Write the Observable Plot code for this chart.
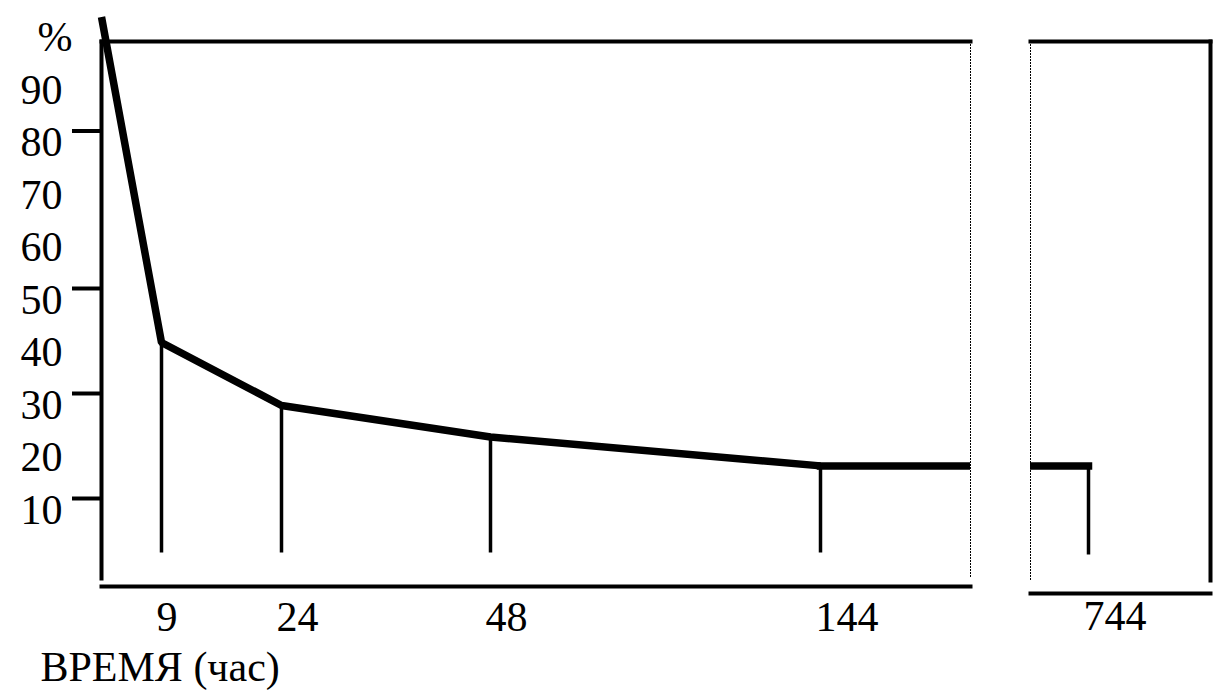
<!DOCTYPE html>
<html>
<head>
<meta charset="utf-8">
<script src="https://cdn.jsdelivr.net/npm/d3@7"></script>
<script src="https://cdn.jsdelivr.net/npm/@observablehq/plot@0.6"></script>
<style>
  html, body { margin: 0; padding: 0; background: #fff; }
  #chart { position: relative; width: 1228px; height: 700px; }
  #chart svg { position: absolute; left: 0; top: 0; }
</style>
</head>
<body>
<div id="chart"></div>
<script>
// ---- data ----
const hours    = [0, 9, 24, 48, 144, 744];
const percents = [104, 42, 30, 24, 18.5, 18.5];
const yTickLabels = [10, 20, 30, 40, 50, 60, 70, 80, 90];
const yTickMarks  = [10, 30, 50, 80];
const xTickLabels = [9, 24, 48, 144, 744];
const unitLabel = "%";
const xTitle = "ВРЕМЯ (час)";

// ---- derived tables ----
const points   = hours.map((h, i) => ({hour: h, pct: percents[i]}));
const mainPart = points.slice(0, 5);   // 0 … 144 h
const tailPart = points.slice(4);      // 144 … 744 h (crosses the axis break)
const measured = points.slice(1);

const W = 1228, H = 700;
const font = "Liberation Serif, 'Times New Roman', serif";
const FS = 42;

// shared (piecewise) scales; both panels use the same scales, each clips to its own frame
const xScale = {type: "linear", domain: hours, range: [101, 161, 281, 490, 820, 1088], axis: null};
const yScale = {type: "linear", domain: [0, 100], range: [562.5, 37.5], axis: null};

const left = Plot.plot({
  width: W, height: H,
  marginLeft: 101, marginRight: W - 970, marginTop: 41, marginBottom: H - 578,
  x: xScale, y: yScale,
  style: {background: "transparent", fontFamily: font},
  marks: [
    Plot.frame({anchor: "top", stroke: "black", strokeWidth: 4}),
    Plot.frame({anchor: "left", stroke: "black", strokeWidth: 4}),
    Plot.frame({anchor: "bottom", stroke: "black", strokeWidth: 4, insetBottom: -8}),
    Plot.frame({anchor: "right", stroke: "black", strokeWidth: 1, strokeDasharray: "1,2"}),
    Plot.ruleY(yTickMarks, {y: d => d, x1: 0, x2: 0, insetLeft: -29, stroke: "black", strokeWidth: 4, dy: -12}),
    Plot.text(yTickLabels, {y: d => d, text: d => String(d), frameAnchor: "left", textAnchor: "end",
      lineAnchor: "middle", dx: -39, fontSize: FS, fontFamily: font, fill: "black"}),
    Plot.text([unitLabel], {frameAnchor: "top-left", textAnchor: "middle", lineAnchor: "middle", dx: -46.5, dy: -4,
      fontSize: FS, fontFamily: font, fill: "black"}),
    Plot.ruleX(measured.filter(d => d.hour <= 144), {x: "hour", y1: "pct", y2: 0, insetBottom: 10,
      stroke: "black", strokeWidth: 3.5}),
    Plot.line(mainPart, {x: "hour", y: "pct", stroke: "black", strokeWidth: 7.5,
      strokeLinecap: "butt", strokeLinejoin: "miter"}),
    Plot.line(tailPart, {x: "hour", y: "pct", stroke: "black", strokeWidth: 7.5, strokeLinecap: "square", clip: true}),
    Plot.text(xTickLabels.filter(d => d <= 144), {x: d => d, text: d => String(d), frameAnchor: "bottom",
      lineAnchor: "middle", textAnchor: "start", dx: -5, dy: 39, fontSize: FS, fontFamily: font, fill: "black"}),
    Plot.text([xTitle], {frameAnchor: "bottom-left", lineAnchor: "middle", textAnchor: "start", dx: -61, dy: 89,
      fontSize: FS, fontFamily: font, fill: "black"})
  ]
});

const right = Plot.plot({
  width: W, height: H,
  marginLeft: 1030, marginRight: W - 1210, marginTop: 41, marginBottom: H - 580,
  x: xScale, y: yScale,
  style: {background: "transparent", fontFamily: font},
  marks: [
    Plot.frame({anchor: "top", stroke: "black", strokeWidth: 4}),
    Plot.frame({anchor: "right", stroke: "black", strokeWidth: 4}),
    Plot.frame({anchor: "bottom", stroke: "black", strokeWidth: 4, insetBottom: -13}),
    Plot.frame({anchor: "left", stroke: "black", strokeWidth: 1, strokeDasharray: "1,2"}),
    Plot.ruleX(measured.filter(d => d.hour > 144), {x: "hour", y1: "pct", y2: 0, insetBottom: 8,
      stroke: "black", strokeWidth: 3.5}),
    Plot.line(tailPart, {x: "hour", y: "pct", stroke: "black", strokeWidth: 7.5, strokeLinecap: "square", clip: true}),
    Plot.text(xTickLabels.filter(d => d > 144), {x: d => d, text: d => String(d), frameAnchor: "bottom",
      lineAnchor: "middle", textAnchor: "start", dx: -5, dy: 36, fontSize: FS, fontFamily: font, fill: "black"})
  ]
});

const chart = document.getElementById("chart");
chart.appendChild(left);
chart.appendChild(right);
</script>
</body>
</html>
